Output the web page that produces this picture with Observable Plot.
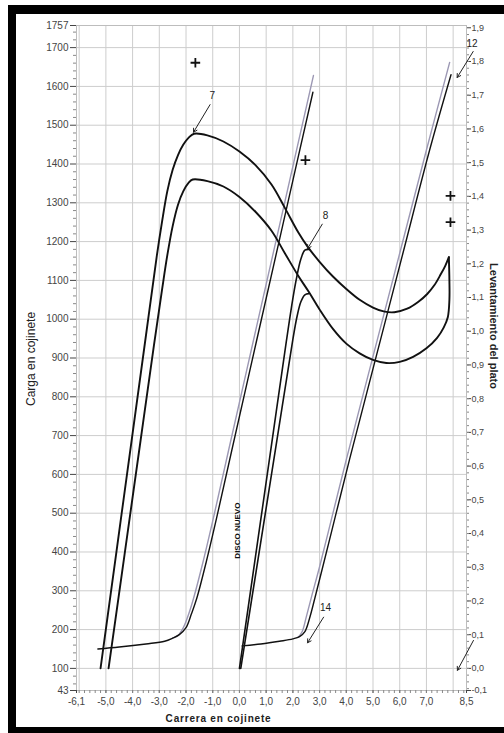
<!DOCTYPE html>
<html><head><meta charset="utf-8">
<script src="https://cdn.jsdelivr.net/npm/d3@7"></script>
<script src="https://cdn.jsdelivr.net/npm/@observablehq/plot@0.6"></script>
<style>
html,body{margin:0;padding:0;background:#fff;}
#wrap{position:relative;width:504px;height:733px;overflow:hidden;background:#fff;}
#frame{position:absolute;left:8px;top:5px;width:496px;height:728px;box-sizing:border-box;border-top:9px solid #000;border-left:8px solid #000;border-bottom:6px solid #000;pointer-events:none;}
#chart{position:absolute;left:0;top:0;}
</style></head>
<body><div id="wrap"><div id="chart"></div><div id="frame"></div></div>
<script>
// ---- tick labels ----
const xTicks = [-6.1, -5, -4, -3, -2, -1, 0, 1, 2, 3, 4, 5, 6, 7, 8.5];
const yTicks = [43, 100, 200, 300, 400, 500, 600, 700, 800, 900, 1000, 1100, 1200, 1300, 1400, 1500, 1600, 1700, 1757];
const liftTicks = [-0.1, 0, 0.1, 0.2, 0.3, 0.4, 0.5, 0.6, 0.7, 0.8, 0.9, 1.0, 1.1, 1.2, 1.3, 1.4, 1.5, 1.6, 1.7, 1.8, 1.9];
const xGrid = [-6, -5, -4, -3, -2, -1, 0, 1, 2, 3, 4, 5, 6, 7, 8];
const yGrid = [100, 200, 300, 400, 500, 600, 700, 800, 900, 1000, 1100, 1200, 1300, 1400, 1500, 1600, 1700];

// ---- curves (x = carrera, y = carga) ----
const loopUpperX = [-5.2, -4.6, -4.0, -3.5, -3.1, -2.9, -2.7, -2.5, -2.3, -2.1, -1.9, -1.7, -1.2, -0.6, 0.0, 0.6, 1.2, 1.7, 2.2, 2.55, 3.0, 3.5, 4.0, 4.5, 5.0, 5.4, 5.8, 6.28, 6.7, 7.03, 7.3, 7.53, 7.7, 7.84];
const loopUpperY = [100, 403, 706, 958, 1160, 1250, 1330, 1385, 1423, 1450, 1468, 1478, 1474, 1458, 1432, 1397, 1347, 1287, 1224, 1187, 1148, 1110, 1078, 1050, 1030, 1020, 1018, 1027, 1045, 1065, 1088, 1115, 1137, 1160];

const loopLowerX = [-4.9, -4.3, -3.7, -3.2, -2.9, -2.7, -2.5, -2.3, -2.1, -1.9, -1.75, -1.2, -0.6, 0.0, 0.6, 1.2, 1.7, 2.2, 2.6, 3.0, 3.5, 4.0, 4.5, 5.0, 5.5, 6.0, 6.5, 7.0, 7.4, 7.65, 7.8, 7.86, 7.86, 7.84];
const loopLowerY = [100, 394, 688, 933, 1075, 1165, 1240, 1295, 1330, 1352, 1360, 1356, 1342, 1315, 1277, 1228, 1170, 1112, 1070, 1025, 975, 937, 912, 895, 887, 890, 903, 925, 952, 979, 1005, 1050, 1100, 1160];

const eightOuterX = [0.0, 0.6, 1.2, 1.75, 1.95, 2.12, 2.3, 2.45, 2.62];
const eightOuterY = [100, 388, 676, 940, 1032, 1100, 1155, 1178, 1180];

const eightInnerX = [0.05, 0.7, 1.4, 2.0, 2.15, 2.3, 2.45, 2.6];
const eightInnerY = [100, 383, 687, 948, 1005, 1045, 1063, 1066];

const p1BlackX = [-5.3, -4.5, -3.5, -2.8, -2.5, -2.25, -2.0, -1.8, -1.6, -1.23, -0.85, -0.29, 0.62, 1.62, 2.75];
const p1BlackY = [150, 155, 163, 170, 178, 187, 205, 240, 280, 378, 489, 661, 938, 1242, 1585];
const p1GrayX = [-2.5, -2.3, -2.1, -1.9, -1.72, -1.35, -0.97, -0.41, 0.5, 1.5, 2.77];
const p1GrayY = [178, 185, 205, 240, 280, 378, 489, 661, 938, 1242, 1628];

const p3BlackX = [0.1, 0.8, 1.5, 2.0, 2.25, 2.45, 2.62, 2.82, 3.12, 3.62, 4.12, 5.12, 6.12, 7.12, 7.92];
const p3BlackY = [158, 163, 170, 176, 182, 195, 228, 280, 362, 500, 638, 904, 1170, 1436, 1630];
const p3GrayX = [2.2, 2.35, 2.5, 2.7, 3.0, 3.5, 4.0, 5.0, 6.0, 7.0, 7.87];
const p3GrayY = [180, 195, 232, 285, 362, 500, 638, 904, 1170, 1436, 1662];

// ---- markers and annotations ----
const plusX = [-1.65, 2.47, 7.9, 7.9];
const plusY = [1661, 1410, 1318, 1250];
const noteText = ["7", "8", "12", "14"];
const noteX = [-1.02, 3.22, 8.71, 3.22];
const noteY = [1576, 1267, 1711, 257];
const arrowX1 = [-1.1, 3.1, 8.75, 3.15, 8.76];
const arrowY1 = [1553, 1245, 1690, 232, 172];
const arrowX2 = [-1.72, 2.55, 8.15, 2.55, 8.16];
const arrowY2 = [1482, 1182, 1623, 166, 95];
const discoText = ["DISCO NUEVO"];
const discoX = [-0.06];
const discoY = [455];

// ---- helpers ----
const pts = (xs, ys) => xs.map((x, i) => ({x, y: ys[i]}));
const fmt = v => v.toFixed(1).replace(".", ",");
const LOAD_AT_ZERO_LIFT = 100, LOAD_PER_LIFT = 869;
const liftToLoad = r => Math.max(43, LOAD_AT_ZERO_LIFT + LOAD_PER_LIFT * r);
const rightPos = liftTicks.map(liftToLoad);
const rightLabel = new Map(liftTicks.map(r => [liftToLoad(r), fmt(r)]));
const leftMinor = d3.range(60, 1757, 20).filter(v => v % 100 !== 0);
const rightMinor = d3.range(-0.06, 1.9, 0.02).map(liftToLoad).filter(v => v > 43);
const bottomMinor = d3.range(-6.0, 8.45, 0.2);

const plusData = pts(plusX, plusY);
const notes = noteText.map((t, i) => ({t, x: noteX[i], y: noteY[i]}));
const arrows = arrowX1.map((x1, i) => ({x1, y1: arrowY1[i], x2: arrowX2[i], y2: arrowY2[i]}));
const disco = discoText.map((t, i) => ({t, x: discoX[i], y: discoY[i]}));

const line = (data, stroke, w) => Plot.line(data, {x: "x", y: "y", curve: "catmull-rom", stroke, strokeWidth: w});

const chart = Plot.plot({
  width: 504, height: 733,
  marginLeft: 76, marginRight: 38, marginTop: 25, marginBottom: 43,
  x: {domain: [-6.1, 8.5]},
  y: {domain: [43, 1757]},
  style: {fontFamily: "'Liberation Sans', Arial, sans-serif", fontSize: "10px", background: "transparent", overflow: "visible"},
  marks: [
    Plot.gridX(xGrid, {stroke: "#cdcdcd", strokeOpacity: 1}),
    Plot.gridY(yGrid, {stroke: "#cdcdcd", strokeOpacity: 1}),
    Plot.frame({stroke: "#bdbdbd"}),
    Plot.axisY(yTicks, {anchor: "left", tickSize: 6, tickPadding: 2, tickFormat: d => String(d), fontSize: 10, color: "#444", label: null}),
    Plot.axisY(leftMinor, {anchor: "left", tickSize: 3, tickFormat: () => "", color: "#888", label: null}),
    Plot.axisY(rightPos, {anchor: "right", tickSize: 4, tickPadding: 1, tickFormat: d => rightLabel.get(d), fontSize: 9, color: "#444", label: null}),
    Plot.axisY(rightMinor, {anchor: "right", tickSize: 2, tickFormat: () => "", color: "#888", label: null}),
    Plot.axisX(xTicks, {anchor: "bottom", tickSize: 3, tickPadding: 4, tickFormat: fmt, fontSize: 10, color: "#444", label: null}),
    Plot.axisX(bottomMinor, {anchor: "bottom", tickSize: 3, tickFormat: () => "", color: "#888", label: null}),
    line(pts(p1GrayX, p1GrayY), "#9c98b4", 1.4),
    line(pts(p3GrayX, p3GrayY), "#9c98b4", 1.4),
    line(pts(p1BlackX, p1BlackY), "#111", 1.4),
    line(pts(p3BlackX, p3BlackY), "#111", 1.4),
    line(pts(eightOuterX, eightOuterY), "#111", 1.6),
    line(pts(eightInnerX, eightInnerY), "#111", 1.6),
    line(pts(loopUpperX, loopUpperY), "#111", 1.9),
    line(pts(loopLowerX, loopLowerY), "#111", 1.9),
    Plot.dot(plusData, {x: "x", y: "y", symbol: "plus", r: 3.2, stroke: "#111", strokeWidth: 1.8}),
    Plot.arrow(arrows, {x1: "x1", y1: "y1", x2: "x2", y2: "y2", stroke: "#222", strokeWidth: 1, headLength: 6}),
    Plot.text(notes, {x: "x", y: "y", text: "t", fontSize: 10, fill: "#222"}),
    Plot.text(disco, {x: "x", y: "y", text: "t", rotate: -90, fontSize: 8, fontWeight: "bold", fill: "#111"}),
    Plot.text(["Carga en cojinete"], {frameAnchor: "left", dx: -45, dy: 48, rotate: -90, fontSize: 12, fill: "#222"}),
    Plot.text(["Levantamiento del plato"], {frameAnchor: "right", dx: 27, dy: 31, rotate: 90, fontSize: 11, fontWeight: "bold", fill: "#222"}),
    Plot.text(["Carrera en cojinete"], {frameAnchor: "bottom", dx: -53, dy: 31, fontSize: 10, fontWeight: "bold", fill: "#222"})
  ]
});
document.getElementById("chart").appendChild(chart);
chart.querySelectorAll("text").forEach(t => {
  if (t.textContent === "Carrera en cojinete") t.style.letterSpacing = "0.8px";
});
</script></body></html>
